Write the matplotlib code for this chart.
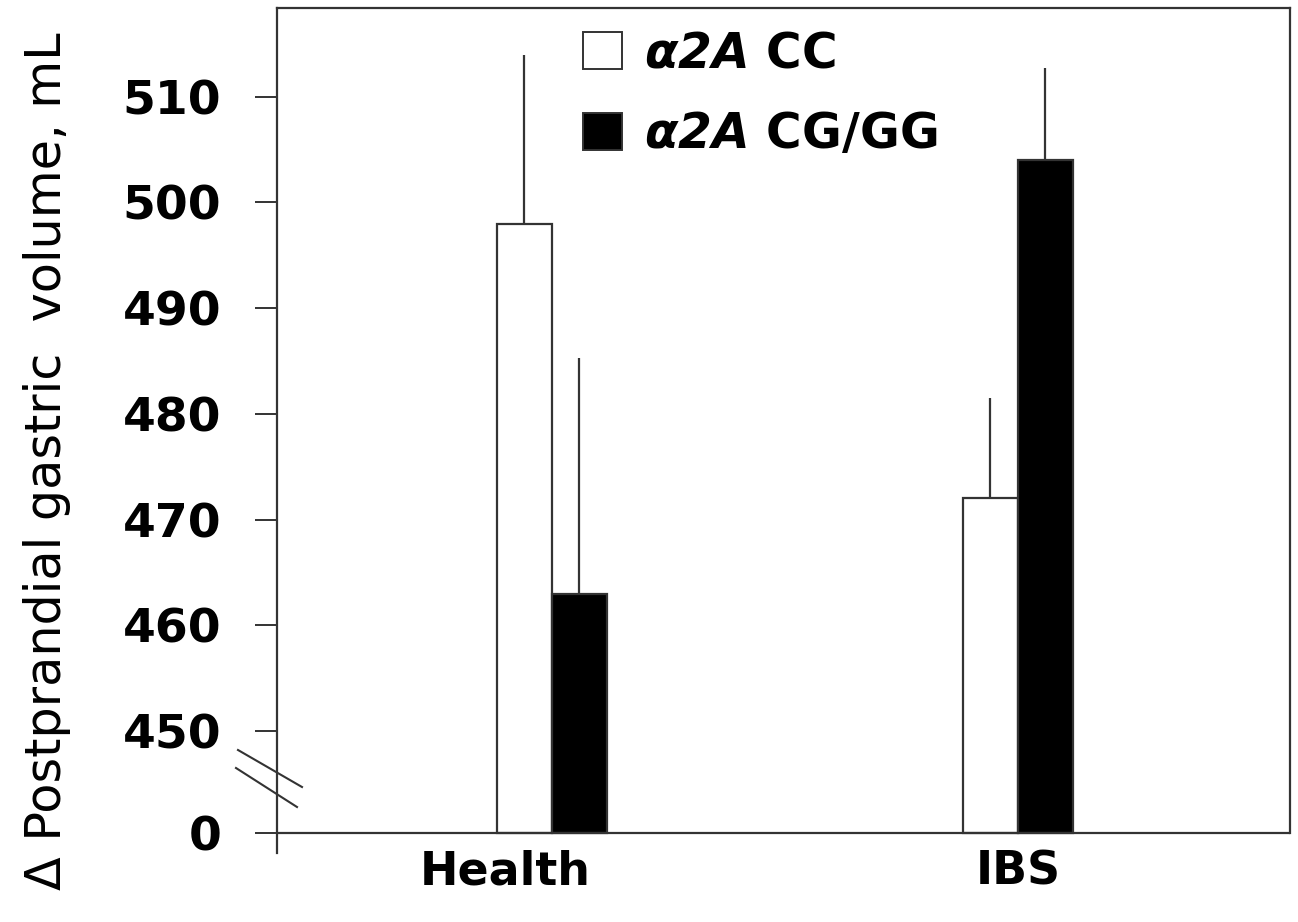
import numpy as np
import matplotlib
matplotlib.use("Agg")
import matplotlib.pyplot as plt
from matplotlib.patches import Patch
from matplotlib.lines import Line2D

# dane
groups = ["Health", "IBS"]
cc_mean = [498.0, 472.0]
cc_err = [16.0, 9.5]
cg_mean = [463.0, 504.0]
cg_err = [22.3, 8.7]
ytick_vals = [450, 460, 470, 480, 490, 500, 510]

plt.rcParams["font.family"] = ["DejaVu Sans"]
plt.rcParams["mathtext.fontset"] = "custom"
plt.rcParams["mathtext.bfit"] = "DejaVu Sans:italic:bold"

W, H = 1298, 922
fig = plt.figure(figsize=(W / 100, H / 100), dpi=100)
ax = fig.add_axes([277 / W, 1 - 853 / H, (1290 - 277) / W, (853 - 8) / H])

# przerwana oś: "0" rysujemy tuż pod 450
y_zero = 440.35
ax.set_ylim(438.46, 518.4)
x = np.arange(len(groups))
ax.set_xlim(-0.59, 1.584)

bw = 0.118
edge = "#333333"
ax.bar(x - bw / 2, np.array(cc_mean) - y_zero, bw, bottom=y_zero,
       facecolor="white", edgecolor=edge, linewidth=1.6, zorder=3)
ax.bar(x + bw / 2, np.array(cg_mean) - y_zero, bw, bottom=y_zero,
       facecolor="black", edgecolor=edge, linewidth=1.6, zorder=3)
ax.errorbar(x - bw / 2, cc_mean, yerr=[np.zeros(2), cc_err], fmt="none",
            ecolor=edge, elinewidth=1.6, capsize=0, zorder=2)
ax.errorbar(x + bw / 2, cg_mean, yerr=[np.zeros(2), cg_err], fmt="none",
            ecolor=edge, elinewidth=1.6, capsize=0, zorder=2)

ax.axhline(y_zero, color=edge, linewidth=1.6, zorder=4)

# osie
ax.spines["bottom"].set_visible(False)
ax.spines["right"].set_bounds(y_zero, 518.4)
for s in ("left", "right", "top"):
    ax.spines[s].set_color(edge)
    ax.spines[s].set_linewidth(1.6)

ax.set_yticks([y_zero] + ytick_vals)
ax.set_yticklabels(["0"] + [str(v) for v in ytick_vals])
ax.tick_params(axis="y", direction="out", length=16, width=1.4, color=edge,
               pad=24, labelsize=34)
for lab in ax.get_yticklabels():
    lab.set_fontweight("bold")
ax.set_xticks([])

# etykiety grup
label_x = [x[0] - 0.1, x[1]]
for xi, g in zip(label_x, groups):
    ax.text(xi, -0.0225, g, transform=ax.get_xaxis_transform(),
            ha="center", va="center", fontsize=33, fontweight="bold")

fig.text(47 / W, 1 - 461 / H, "Δ Postprandial gastric  volume, mL",
         rotation=90, ha="center", va="center", fontsize=35.5)

# znaczek przerwania osi
for (x1, y1, x2, y2) in [(238, 750, 302, 787), (236, 768, 297, 807)]:
    fig.add_artist(Line2D([x1 / W, x2 / W], [1 - y1 / H, 1 - y2 / H],
                          color=edge, linewidth=1.5))

handles = [Patch(facecolor="white", edgecolor=edge, linewidth=1.4),
           Patch(facecolor="black", edgecolor=edge, linewidth=1.4)]
labels = [r"$\mathbfit{\alpha 2A}$ CC", r"$\mathbfit{\alpha 2A}$ CG/GG"]
ax.legend(handles, labels, loc="upper left",
          bbox_to_anchor=(583 / W, 1 - 29 / H), bbox_transform=fig.transFigure,
          frameon=False, prop={"size": 35, "weight": "bold"},
          handlelength=0.8, handleheight=0.8, handletextpad=0.45,
          labelspacing=0.68, borderpad=0, borderaxespad=0)

fig.savefig("out.png", dpi=100)
